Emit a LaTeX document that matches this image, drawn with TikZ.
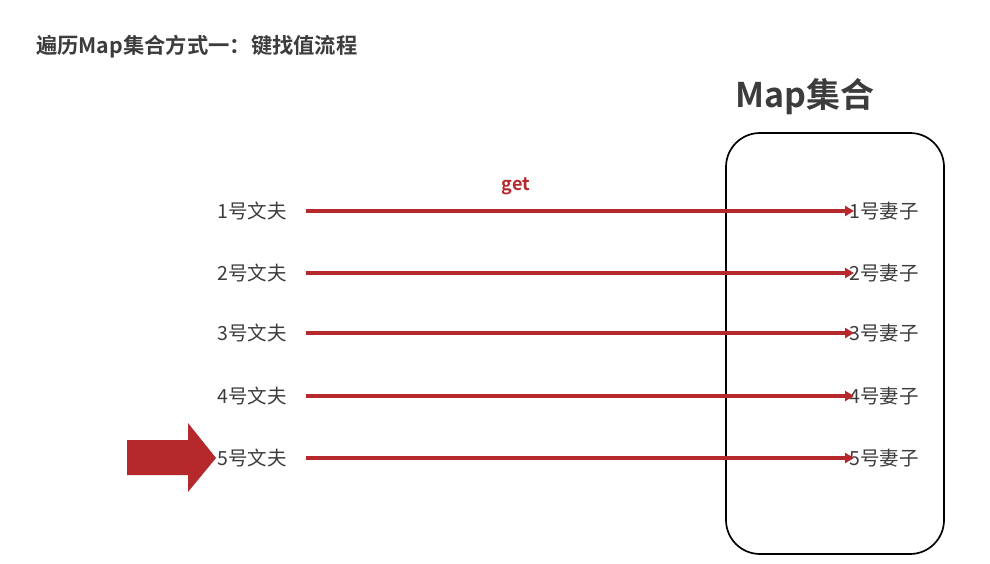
\documentclass[tikz,border=0pt]{standalone}
\usepackage{fontspec}
\newfontfamily\cjk{Noto Sans CJK SC}
\newfontfamily\cjkb{Noto Sans CJK SC Bold}
\definecolor{txt}{HTML}{3C3C3C}
\definecolor{myred}{HTML}{B5282B}
\usetikzlibrary{arrows.meta}
\begin{document}
\begin{tikzpicture}[x=1pt,y=-1pt,
  lbl/.style={inner sep=0pt, font=\cjk\fontsize{19.5}{19.5}\selectfont, text=txt},
  link/.style={draw=myred, line width=3.2pt, -{Triangle[length=9pt,width=10pt]}},
]
\useasboundingbox (0,0) rectangle (990,563);
\node[anchor=west, inner sep=0pt, font=\cjkb\fontsize{21.3}{21.3}\selectfont, text=txt] (title) at (36,47) {遍历Map集合方式一：键找值流程};
\node[anchor=west, inner sep=0pt, font=\cjkb\fontsize{34}{34}\selectfont, text=txt] (maplbl) at (735,97) {Map集合};
\draw[line width=1.7pt, rounded corners=34pt] (726,133) rectangle (944,554);
\node[inner sep=0pt, font=\cjkb\fontsize{18}{18}\selectfont, text=myred] (get) at (516,186) {get};
\foreach \i/\y in {1/211,2/273,3/333,4/396,5/458}{
  \node[lbl, anchor=east] (h\i) at (287,\y) {\i 号文夫};
  \node[lbl, anchor=west] (w\i) at (849,\y) {\i 号妻子};
  \draw[link] ([xshift=19pt]h\i.east) -- ([xshift=5pt]w\i.west);
}
\fill[myred] (127,440) -- (188,440) -- (188,423) -- (216,458) -- (188,492) -- (188,475) -- (127,475) -- cycle;
\end{tikzpicture}
\end{document}
